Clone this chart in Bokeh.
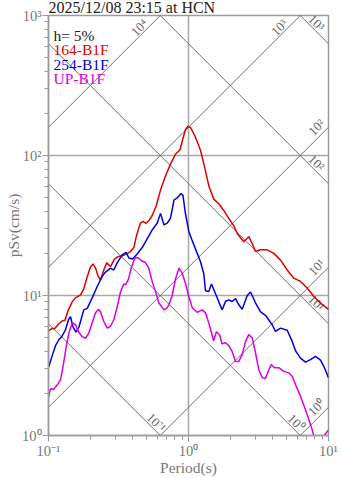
import math
from bokeh.plotting import figure
from bokeh.models import Range1d, Label, ColumnDataSource, CustomJSTickFormatter, FixedTicker
from bokeh.core.properties import value
from bokeh.embed import file_html
from bokeh.resources import INLINE

FONT = "Liberation Serif"

title_text = "2025/12/08 23:15 at HCN"
damping_text = "h= 5%"
x_label = "Period(s)"
y_label = "pSv(cm/s)"
series_names = ["164-B1F", "254-B1F", "UP-B1F"]
series_colors = ["#e00000", "#0000e0", "#e000e0"]

period_164 = [0.100, 0.1063, 0.1104, 0.1185, 0.1259, 0.1312, 0.1378, 0.1477, 0.1559, 0.1693,
              0.1787, 0.1890, 0.1995, 0.2079, 0.2167, 0.2265, 0.2351, 0.2483, 0.2604, 0.2773,
              0.2960, 0.3162, 0.3378, 0.3666, 0.3853, 0.4068, 0.4231, 0.4372, 0.4541, 0.4732,
              0.4971, 0.5223, 0.5504, 0.5860, 0.6310, 0.6851, 0.7435, 0.8074, 0.8696, 0.9061,
              0.9519, 0.9918, 1.042, 1.122, 1.218, 1.301, 1.401, 1.516, 1.652, 1.787,
              1.941, 2.107, 2.239, 2.483, 2.696, 2.851, 3.010, 3.268, 3.648, 4.068,
              4.541, 5.070, 5.651, 6.310, 7.045, 7.852, 8.769, 10.0]
psv_164 = [5.60, 5.83, 5.79, 6.28, 6.60, 6.65, 7.78, 9.01, 9.62, 10.1,
           11.16, 13.6, 16.0, 16.8, 15.7, 13.7, 12.9, 15.2, 17.1, 16.1,
           18.2, 19.0, 19.2, 20.0, 20.6, 22.0, 26.2, 29.4, 32.9, 33.8,
           32.8, 34.3, 37.3, 43.2, 56.6, 71.3, 86.8, 102.2, 110.0, 128.6,
           153.3, 161.8, 156.6, 135.1, 109.1, 83.3, 60.0, 48.8, 45.0, 40.5,
           35.6, 31.4, 27.5, 24.2, 26.3, 23.5, 20.6, 21.2, 21.2, 20.0,
           17.9, 15.2, 13.3, 12.6, 11.3, 9.83, 8.82, 7.97]

period_254 = [0.1005, 0.1063, 0.1122, 0.1185, 0.1249, 0.1322, 0.1389, 0.1436, 0.1496, 0.1572,
              0.1652, 0.1787, 0.1890, 0.2051, 0.2228, 0.2418, 0.2553, 0.2773, 0.2927, 0.3095,
              0.3361, 0.3578, 0.3758, 0.3981, 0.4301, 0.4669, 0.5012, 0.5504, 0.5976, 0.6310,
              0.6683, 0.7046, 0.7435, 0.7878, 0.8346, 0.8841, 0.9135, 0.9519, 1.005, 1.059,
              1.154, 1.218, 1.286, 1.323, 1.396, 1.460, 1.559, 1.646, 1.741, 1.838,
              1.941, 2.052, 2.167, 2.288, 2.419, 2.627, 2.773, 3.010, 3.268, 3.548,
              3.962, 4.182, 4.541, 5.070, 5.505, 5.812, 6.310, 6.850, 7.436, 8.074,
              8.769, 9.256, 10.0]
psv_254 = [3.10, 3.72, 4.38, 4.83, 5.12, 5.69, 6.71, 7.05, 5.98, 5.47,
           5.98, 7.90, 8.10, 9.62, 11.6, 13.7, 14.7, 15.7, 15.2, 17.1,
           19.5, 20.3, 18.5, 18.2, 19.8, 22.0, 24.9, 29.4, 32.8, 38.6,
           31.9, 32.9, 35.6, 48.1, 50.1, 53.6, 51.7, 38.2, 28.7, 24.9,
           20.0, 17.4, 14.3, 10.8, 10.7, 12.1, 10.3, 9.01, 7.90, 9.09,
           9.31, 9.06, 9.51, 8.58, 7.97, 10.0, 10.6, 8.87, 7.65, 7.22,
           6.18, 5.55, 5.85, 5.65, 4.70, 4.03, 3.57, 3.34, 3.48, 3.67,
           3.45, 3.12, 2.59]

period_up = [0.1000, 0.1033, 0.1086, 0.1160, 0.1219, 0.1259, 0.1301, 0.1345, 0.1401, 0.1477,
             0.1559, 0.1638, 0.1740, 0.1837, 0.1931, 0.2051, 0.2167, 0.2276, 0.2351, 0.2483,
             0.2626, 0.2773, 0.2927, 0.3095, 0.3268, 0.3451, 0.3548, 0.3727, 0.3917, 0.4149,
             0.4357, 0.4615, 0.4930, 0.5205, 0.5504, 0.5811, 0.6136, 0.6663, 0.7046, 0.7234,
             0.7648, 0.8074, 0.8553, 0.9016, 0.9519, 1.005, 1.063, 1.154, 1.253, 1.323,
             1.396, 1.460, 1.509, 1.585, 1.665, 1.735, 1.838, 1.941, 2.052, 2.167,
             2.288, 2.419, 2.553, 2.696, 2.851, 3.010, 3.178, 3.361, 3.548, 3.747,
             3.897, 4.115, 4.416, 4.794, 5.205, 5.505, 5.812, 6.310, 6.850, 7.233,
             7.647, 7.943, 8.346, 8.913, 9.441, 10.0]
psv_up = [1.87, 2.16, 2.13, 2.31, 2.51, 2.95, 3.60, 4.45, 5.42, 6.39,
          6.18, 5.51, 5.08, 4.95, 5.33, 6.39, 7.52, 7.97, 7.65, 6.52,
          5.85, 6.03, 6.71, 8.30, 10.6, 12.1, 11.9, 13.1, 16.0, 18.6,
          18.7, 17.7, 17.2, 15.7, 12.6, 10.7, 8.87, 7.90, 8.17, 8.58,
          10.0, 13.1, 15.7, 14.4, 12.2, 9.83, 8.17, 7.59, 7.90, 7.52,
          6.35, 5.42, 4.75, 5.51, 5.25, 4.52, 4.60, 4.38, 3.97, 3.38,
          3.38, 3.78, 4.70, 5.25, 4.99, 3.90, 2.95, 2.59, 2.55, 2.95,
          3.21, 3.05, 3.05, 2.87, 2.80, 2.65, 2.31, 1.91, 1.53, 1.30,
          1.10, 0.952, 0.877, 0.921, 1.016, 1.094]

disp_levels = [0.1, 1, 10, 100, 1000]        # Sd, cm
acc_levels = [1, 10, 100, 1000, 10000]       # Sa, cm/s^2
x_major = [0.1, 1, 10]
y_major = [1, 10, 100, 1000]

x_min, x_max = 0.1, 10
y_min, y_max = 1, 1000

SUP = str.maketrans("-0123456789", "\u207b\u2070\u00b9\u00b2\u00b3\u2074\u2075\u2076\u2077\u2078\u2079")


def pow10_label(v):
    return "10" + str(int(round(math.log10(v)))).translate(SUP)


def minors(majors):
    return [m * v for v in majors[:-1] for m in range(2, 10)]


p = figure(width=342, height=478, x_axis_type="log", y_axis_type="log",
           x_range=Range1d(x_min, x_max), y_range=Range1d(y_min, y_max),
           output_backend="svg", toolbar_location=None, title=title_text,
           x_axis_label=x_label, y_axis_label=y_label,
           min_border_left=48, min_border_right=14, min_border_top=15, min_border_bottom=42)
p.background_fill_color = "white"
p.border_fill_color = "white"
p.outline_line_color = "#9a9a9a"
p.outline_line_width = 1.5

p.title.align = "left"
p.title.vertical_align = "top"
p.title.standoff = -5
p.title.offset = 0
p.title.text_font = FONT
p.title.text_font_size = "16px"
p.title.text_font_style = "normal"
p.title.text_color = "#222222"

formatter_code = """
const e = Math.round(Math.log10(tick));
const sup = {"-":"\\u207b","0":"\\u2070","1":"\\u00b9","2":"\\u00b2","3":"\\u00b3","4":"\\u2074",
             "5":"\\u2075","6":"\\u2076","7":"\\u2077","8":"\\u2078","9":"\\u2079"};
return "10" + String(e).split("").map(c => sup[c]).join("");
"""
p.xaxis[0].ticker = FixedTicker(ticks=x_major, minor_ticks=minors(x_major))
p.yaxis[0].ticker = FixedTicker(ticks=y_major, minor_ticks=minors(y_major))
for ax in (p.xaxis[0], p.yaxis[0]):
    ax.axis_line_color = "#9a9a9a"
    ax.axis_line_width = 1.5
    ax.major_tick_line_color = "#9a9a9a"
    ax.minor_tick_line_color = "#9a9a9a"
    ax.major_tick_out = 6
    ax.major_tick_in = 0
    ax.minor_tick_out = 4
    ax.minor_tick_in = 0
    ax.major_label_text_font = FONT
    ax.major_label_text_font_size = "14.5px"
    ax.major_label_text_color = "#777777"
    ax.major_label_standoff = 1
    ax.formatter = CustomJSTickFormatter(code=formatter_code)
    ax.axis_label_text_font = FONT
    ax.axis_label_text_font_size = "15.5px"
    ax.axis_label_text_font_style = "normal"
    ax.axis_label_text_color = "#777777"
p.xaxis[0].axis_label_standoff = -3
p.yaxis[0].axis_label_standoff = -3

for g in (p.xgrid[0], p.ygrid[0]):
    g.grid_line_color = "#a8a8a8"
    g.grid_line_width = 1.5

# tripartite diagonal lines
t_lo, t_hi = 0.05, 20.0
dxs, dys = [], []
for d in disp_levels:
    dxs.append([t_lo, t_hi])
    dys.append([2 * math.pi * d / t_lo, 2 * math.pi * d / t_hi])
for a in acc_levels:
    dxs.append([t_lo, t_hi])
    dys.append([a * t_lo / (2 * math.pi), a * t_hi / (2 * math.pi)])
p.multi_line(dxs, dys, line_color="#707070", line_width=1)

lx, ly, lt, la, ldx, ldy = [], [], [], [], [], []
for a in acc_levels:
    s10 = a * x_max / (2 * math.pi)
    if s10 <= y_max:
        ex, ey, ox, oy = x_max, s10, -12, 0
    else:
        ex, ey, ox, oy = 2 * math.pi * y_max / a, y_max, -21, 12
    lx.append(ex); ly.append(ey); lt.append(pow10_label(a)); la.append(math.pi / 4)
    ldx.append(ox); ldy.append(oy)
for d in disp_levels:
    s10 = 2 * math.pi * d / x_max
    if s10 >= y_min:
        ex, ey, ox, oy = x_max, s10, -12, -21
    else:
        ex, ey, ox, oy = 2 * math.pi * d / y_min, y_min, -4, -13
    lx.append(ex); ly.append(ey); lt.append(pow10_label(d)); la.append(-math.pi / 4)
    ldx.append(ox); ldy.append(oy)
lsrc = ColumnDataSource(dict(x=lx, y=ly, text=lt, angle=la, xo=ldx, yo=ldy))
p.text(x="x", y="y", text="text", angle="angle", x_offset="xo", y_offset="yo", source=lsrc,
       text_font=value(FONT), text_font_size="13px", text_color="#666666",
       text_align="center", text_baseline="middle")

# spectra
for per, sv, col in ((period_164, psv_164, series_colors[0]),
                     (period_254, psv_254, series_colors[1]),
                     (period_up, psv_up, series_colors[2])):
    p.line(per, sv, line_color=col, line_width=1.5)

# in-plot legend texts
legend_texts = [damping_text] + series_names
legend_colors = ["#222222"] + series_colors
for i, (t, c) in enumerate(zip(legend_texts, legend_colors)):
    p.add_layout(Label(x=x_min, y=y_max, x_offset=5, y_offset=-20 - 14.4 * i, text=t,
                       text_font=FONT, text_font_size="15.5px", text_color=c,
                       text_baseline="alphabetic"))

open("out.html", "w").write(file_html(p, INLINE))
